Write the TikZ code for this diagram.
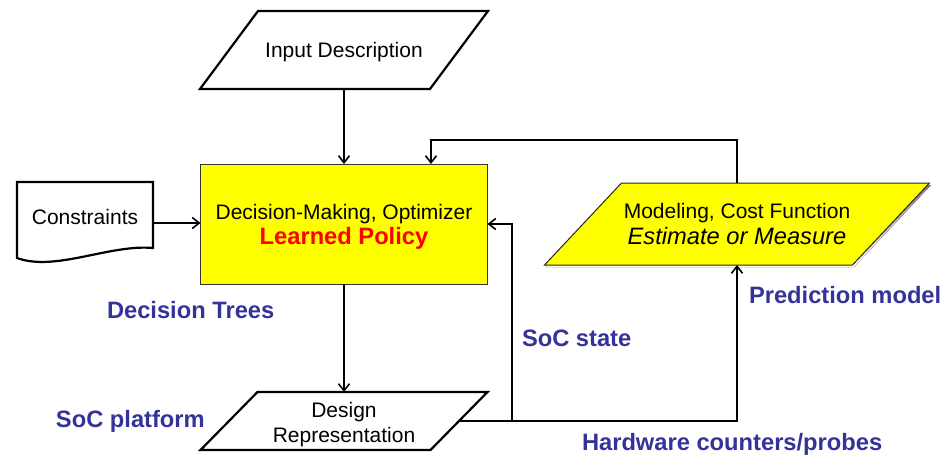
\documentclass[tikz,border=0pt]{standalone}
\usepackage{fontspec}
\setmainfont{Liberation Sans}
\usetikzlibrary{arrows.meta,backgrounds}
\definecolor{lblblue}{RGB}{51,51,153}
\definecolor{boxyellow}{RGB}{255,255,0}
\definecolor{shade}{RGB}{90,90,40}
% text block shifted down while keeping its box size
\newcommand{\lowered}[2]{\raisebox{#1}[\height][\depth]{\begin{tabular}{@{}c@{}}#2\end{tabular}}}
\begin{document}
\begin{tikzpicture}[x=1pt,y=-1pt,
  every node/.style={inner sep=0pt,outer sep=0pt},
  shapeline/.style={line width=2.2pt,line join=miter},
  conn/.style={line width=1.6pt,-{Straight Barb[length=7pt,width=11pt]}},
  body/.style={font=\fontsize{21}{25}\selectfont,align=center},
  tag/.style={font=\bfseries\fontsize{23.7}{28}\selectfont,text=lblblue,anchor=base west}]
\useasboundingbox (0,0) rectangle (946,455);

% input parallelogram
\node[body,minimum width=230pt,minimum height=78pt] (inp) at (344,50) {\lowered{-2pt}{Input Description}};
\draw[shapeline] ([xshift=29pt]inp.north west) -- ([xshift=29pt]inp.north east)
  -- ([xshift=-29pt]inp.south east) -- ([xshift=-29pt]inp.south west) -- cycle;

% central decision box
\node[body,draw=black!80,line width=1pt,fill=boxyellow,minimum width=287pt,minimum height=120pt]
  (yb) at (344,224)
  {\lowered{-3pt}{Decision-Making, Optimizer\\{\color{red}\bfseries\fontsize{23.7}{27}\selectfont Learned Policy}}};

% constraints document
\node[body,minimum width=136pt,minimum height=70pt] (cons) at (85,217) {Constraints};
\draw[shapeline] (cons.north west) -- (cons.north east) -- ([yshift=4pt]cons.south east)
  .. controls (110,244) and (55,272) .. ([yshift=-6pt]cons.south west) -- cycle;

% design representation parallelogram
\node[body,minimum width=230pt,minimum height=58pt] (des) at (344,421) {\lowered{-4pt}{Design\\Representation}};
\draw[shapeline] ([xshift=28.5pt]des.north west) -- ([xshift=28.5pt]des.north east)
  -- ([xshift=-28.5pt]des.south east) -- ([xshift=-28.5pt]des.south west) -- cycle;

% cost model parallelogram
\node[body,minimum width=308pt,minimum height=82pt] (mod) at (737,224)
  {Modeling, Cost Function\\[1pt]{\itshape\fontsize{23.7}{27}\selectfont Estimate or Measure}};
\begin{scope}[on background layer]
  \fill[shade] ([xshift=40pt,yshift=-2pt]mod.north west) -- ([xshift=40pt,yshift=-2pt]mod.north east)
    -- ([xshift=-37pt,yshift=-2pt]mod.south east) -- ([xshift=-37pt,yshift=-2pt]mod.south west) -- cycle;
  \filldraw[fill=boxyellow,draw=black!85,line width=1pt]
    ([xshift=38.5pt]mod.north west) -- ([xshift=38.5pt]mod.north east)
    -- ([xshift=-38.5pt]mod.south east) -- ([xshift=-38.5pt]mod.south west) -- cycle;
\end{scope}

% connectors
\coordinate (fb) at (431,140);
\coordinate (soc) at (512,421);
\draw[conn] (inp.south) -- (yb.north);
\draw[conn] ([yshift=-6pt]cons.east) -- ([yshift=-6pt]cons.east -| yb.west);
\draw[conn] (yb.south) -- (des.north);
\draw[conn] (des.east) -- (soc) |- (yb.east);
\draw[conn] (des.east) -| (mod.south);
\draw[conn] (mod.north) |- (fb) -- (fb |- yb.north);

% annotations
\node[tag] (ldt) at (107,318) {Decision Trees};
\node[tag] (lsp) at (56,427) {SoC platform};
\node[tag] (lss) at (522,346) {SoC state};
\node[tag] (lpm) at (749,303) {Prediction model};
\node[tag] (lhw) at (582,450) {Hardware counters/probes};
\end{tikzpicture}
\end{document}
